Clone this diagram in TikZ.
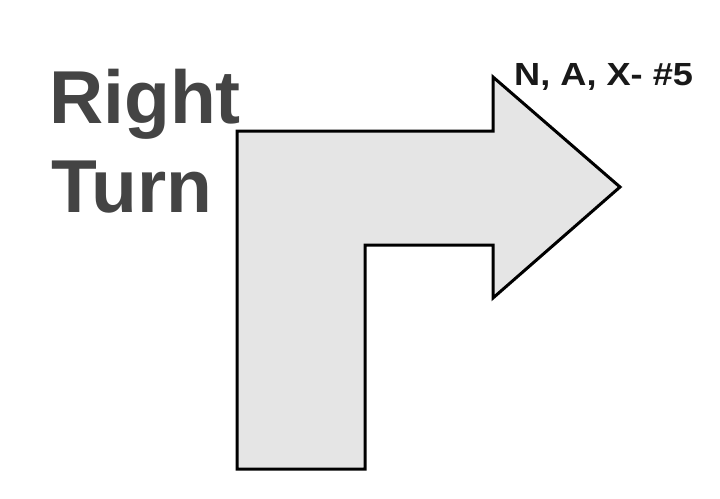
\documentclass[tikz,border=0pt]{standalone}
\usepackage{fontspec}
\setmainfont{Liberation Sans}
\definecolor{txtgray}{HTML}{444444}
\definecolor{arrowfill}{HTML}{E5E5E5}
\tikzset{
  bigtext/.style={anchor=base west, inner sep=0pt, text=txtgray, font=\bfseries\fontsize{75}{89}\selectfont},
  smalltext/.style={anchor=base west, inner sep=0pt, text=black!90, font=\bfseries\fontsize{32}{38}\selectfont},
  turnarrow/.style={draw=black, fill=arrowfill, line width=3pt, line join=miter}
}
\begin{document}
\begin{tikzpicture}[x=1pt,y=-1pt]
\useasboundingbox (0,0) rectangle (720,498);
\fill[white] (0,0) rectangle (720,498);
\draw[turnarrow] (237,469) -- (237,131) -- (493,131) -- (493,77) -- (620,187)
  -- (493,298) -- (493,245) -- (365,245) -- (365,469) -- cycle;
\node[bigtext] (right) at (49,123) {Right};
\node[bigtext] (turn) at (51,212) {Turn};
\node[smalltext, xscale=1.13] (label) at (514,85) {N, A, X- \#5};
\end{tikzpicture}
\end{document}
